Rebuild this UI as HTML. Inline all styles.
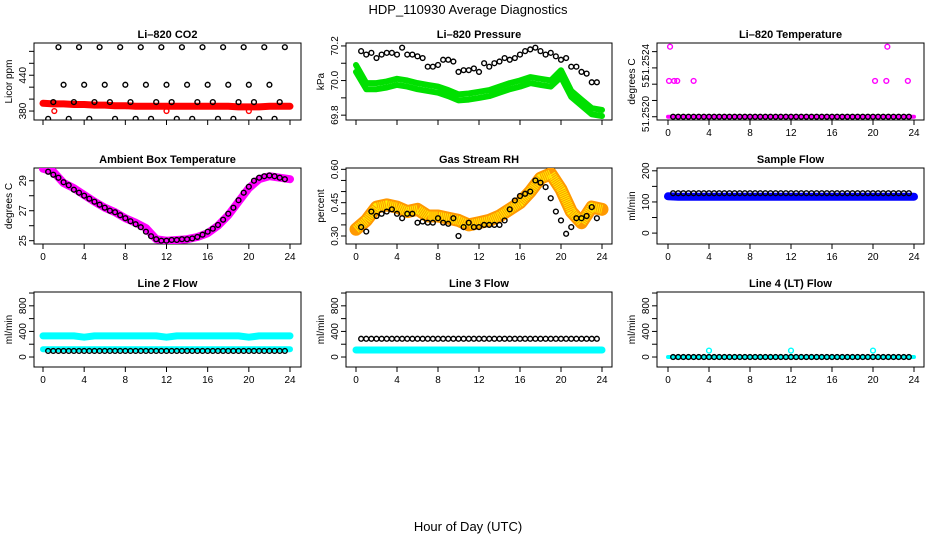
<!DOCTYPE html>
<html><head><meta charset="utf-8"><style>
html,body{margin:0;padding:0;background:#fff;}
svg{display:block;font-family:"Liberation Sans",sans-serif;}
</style></head><body>
<svg id="chart" width="936" height="540" viewBox="0 0 936 540" xmlns="http://www.w3.org/2000/svg">
<text x="468" y="14" text-anchor="middle" font-size="13">HDP_110930  Average Diagnostics</text>
<text x="468" y="531" text-anchor="middle" font-size="13">Hour of Day (UTC)</text>
</svg>
<script>
const hoursLine = [0,1,2,3,4,5,6,7,8,9,10,11,12,13,14,15,16,17,18,19,20,21,22,23,24];
const hoursBlack = [0.5,1,1.5,2,2.5,3,3.5,4,4.5,5,5.5,6,6.5,7,7.5,8,8.5,9,9.5,10,10.5,11,11.5,12,12.5,13,13.5,14,14.5,15,15.5,16,16.5,17,17.5,18,18.5,19,19.5,20,20.5,21,21.5,22,22.5,23,23.5];
const xTicks = [0,4,8,12,16,20,24];

const co2Black = [367,395,487,424,367,395,487,424,367,395,487,424,395,367,487,424,395,367,487,424,367,395,487,424,395,367,487,424,367,395,487,424,395,367,487,424,367,395,487,424,395,367,487,424,367,395,487];
const co2Red = [393,392,392,391,391,390,390,389,389,388,388,388,388,388,388,388,388,388,388,387,387,387,388,388,388];
const co2RedOutT = [1.1,12,20];
const co2RedOutV = [380,380,380];

const presBlack = [70.17,70.15,70.16,70.13,70.15,70.16,70.16,70.15,70.19,70.15,70.15,70.14,70.13,70.08,70.08,70.09,70.12,70.12,70.11,70.05,70.06,70.06,70.07,70.05,70.10,70.08,70.10,70.11,70.13,70.12,70.13,70.15,70.17,70.18,70.19,70.17,70.15,70.16,70.14,70.12,70.13,70.08,70.08,70.05,70.04,69.99,69.99];
const presGreenA = [70.09,69.985,69.985,69.995,70.01,70.0,69.985,69.975,69.965,69.945,69.92,69.925,69.935,69.945,69.965,69.985,70.0,70.02,70.01,70.0,70.06,69.94,69.89,69.84,69.83];
const presGreenB = [70.05,69.95,69.95,69.96,69.975,69.965,69.95,69.94,69.93,69.91,69.885,69.89,69.9,69.91,69.93,69.95,69.965,69.985,69.975,69.965,70.02,69.905,69.855,69.805,69.795];

const tempBlack = [51.2520,51.2520,51.2520,51.2520,51.2520,51.2520,51.2520,51.2520,51.2520,51.2520,51.2520,51.2520,51.2520,51.2520,51.2520,51.2520,51.2520,51.2520,51.2520,51.2520,51.2520,51.2520,51.2520,51.2520,51.2520,51.2520,51.2520,51.2520,51.2520,51.2520,51.2520,51.2520,51.2520,51.2520,51.2520,51.2520,51.2520,51.2520,51.2520,51.2520,51.2520,51.2520,51.2520,51.2520,51.2520,51.2520,51.2520];
const tempMag = [51.2520,51.2520,51.2520,51.2520,51.2520,51.2520,51.2520,51.2520,51.2520,51.2520,51.2520,51.2520,51.2520,51.2520,51.2520,51.2520,51.2520,51.2520,51.2520,51.2520,51.2520,51.2520,51.2520,51.2520,51.2520];
const tempOutT = [0.2,0.1,0.6,0.9,2.5,20.2,21.3,23.4,21.4];
const tempOutV = [51.25243,51.25222,51.25222,51.25222,51.25222,51.25222,51.25222,51.25222,51.25243];

const ambMag = [29.8,29.6,28.85,28.5,28.05,27.6,27.2,26.9,26.5,26.2,25.85,25.1,25.0,25.05,25.1,25.25,25.5,26.0,26.7,27.6,28.5,29.1,29.3,29.2,29.1];
const ambBlack = [29.6,29.4,29.2,28.9,28.7,28.4,28.2,28.0,27.8,27.6,27.4,27.2,27.0,26.9,26.7,26.5,26.3,26.1,25.9,25.6,25.3,25.1,25.0,25.0,25.05,25.05,25.1,25.1,25.15,25.25,25.4,25.6,25.8,26.05,26.4,26.8,27.2,27.7,28.2,28.6,29.0,29.2,29.3,29.35,29.3,29.2,29.1];

const rhOrange = [0.33,0.37,0.43,0.44,0.43,0.41,0.42,0.39,0.39,0.38,0.37,0.35,0.36,0.37,0.39,0.42,0.45,0.50,0.56,0.58,0.51,0.41,0.36,0.43,0.42];
const rhBlack = [0.34,0.32,0.41,0.39,0.40,0.41,0.42,0.40,0.38,0.40,0.40,0.36,0.365,0.36,0.36,0.38,0.36,0.355,0.38,0.30,0.34,0.36,0.34,0.34,0.35,0.35,0.35,0.35,0.37,0.42,0.46,0.48,0.49,0.50,0.55,0.54,0.52,0.47,0.41,0.37,0.31,0.34,0.38,0.38,0.39,0.43,0.38];

const sampBlue = [118,117,117,117,117,117,117,117,117,117,117,117,117,117,117,117,117,117,117,117,117,117,117,117,117];
const sampBlack = [128,128,128,128,128,128,128,128,128,128,128,128,128,128,128,128,128,128,128,128,128,128,128,128,128,128,128,128,128,128,128,128,128,128,128,128,128,128,128,128,128,128,128,128,128,128,128];

const l2CyanTop = [330,330,330,330,310,330,330,330,330,330,330,330,310,330,330,330,330,330,330,330,310,330,330,330,330];
const l2CyanLow = [120,120,120,120,120,120,120,120,120,120,120,120,120,120,120,120,120,120,120,120,120,120,120,120,120];
const l2Black = [95,95,95,95,95,95,95,95,95,95,95,95,95,95,95,95,95,95,95,95,95,95,95,95,95,95,95,95,95,95,95,95,95,95,95,95,95,95,95,95,95,95,95,95,95,95,95];

const l3Cyan = [110,110,110,110,110,110,110,110,110,110,110,110,110,110,110,110,110,110,110,110,110,110,110,110,110];
const l3Black = [285,285,285,285,285,285,285,285,285,285,285,285,285,285,285,285,285,285,285,285,285,285,285,285,285,285,285,285,285,285,285,285,285,285,285,285,285,285,285,285,285,285,285,285,285,285,285];

const l4Cyan = [0,0,0,0,0,0,0,0,0,0,0,0,0,0,0,0,0,0,0,0,0,0,0,0,0];
const l4CyanOutT = [4,12,20];
const l4CyanOutV = [100,100,100];
const l4Black = [0,0,0,0,0,0,0,0,0,0,0,0,0,0,0,0,0,0,0,0,0,0,0,0,0,0,0,0,0,0,0,0,0,0,0,0,0,0,0,0,0,0,0,0,0,0,0];

const NS = "http://www.w3.org/2000/svg";
const svg = document.getElementById('chart');
const COLS = [{l:34,r:301,x0:43,x24:290},{l:346,r:612,x0:356,x24:602},{l:657,r:924,x0:668,x24:914}];
const ROWS = [{t:43,b:120},{t:168,b:244},{t:292,b:367}];

function mk(tag, attrs, parent){
  const e = document.createElementNS(NS, tag);
  for (const k in attrs) e.setAttribute(k, attrs[k]);
  (parent||svg).appendChild(e);
  return e;
}

function panel(cfg){
  const c = COLS[cfg.col], r = ROWS[cfg.row];
  const g = mk('g', {});
  
  
  const xs = h => c.x0 + (c.x24 - c.x0) * h / 24;
  const ys = v => r.b - (v - cfg.ymin) / (cfg.ymax - cfg.ymin) * (r.b - r.t);
  const box = mk('rect', {x:c.l, y:r.t, width:c.r-c.l, height:r.b-r.t, fill:'none', stroke:'#000', 'stroke-width':1}, g);
  
  
  const tt = mk('text', {x:(c.l+c.r)/2, y:r.t-5, 'text-anchor':'middle', 'font-size':11, 'font-weight':'bold'}, g);
  tt.textContent = cfg.title;
  
  
  const xa = mk('g', {}, g);
  
  
  mk('line', {x1:xs(0), x2:xs(24), y1:r.b, y2:r.b, stroke:'#000'}, xa);
  xTicks.forEach(h => {
    mk('line', {x1:xs(h), x2:xs(h), y1:r.b, y2:r.b+5, stroke:'#000'}, xa);
    if (cfg.xlabels) {
      const t = mk('text', {x:xs(h), y:r.b+16, 'text-anchor':'middle', 'font-size':10}, xa);
      t.textContent = String(h);
    }
  });
  const ya = mk('g', {}, g);
  
  
  const yt = cfg.yticks;
  mk('line', {x1:c.l, x2:c.l, y1:ys(yt[0]), y2:ys(yt[yt.length-1]), stroke:'#000'}, ya);
  yt.forEach(v => mk('line', {x1:c.l-5, x2:c.l, y1:ys(v), y2:ys(v), stroke:'#000'}, ya));
  cfg.ylabels.forEach((lab, i) => {
    const yy = cfg.ylabelPos ? cfg.ylabelPos[i] : ys(cfg.ylabelVals[i]);
    const t = mk('text', {x:0, y:0, 'text-anchor':'middle', 'font-size':10, transform:`translate(${c.l-8},${yy}) rotate(-90)`}, ya);
    t.textContent = lab;
  });
  const yl = mk('text', {x:0, y:0, 'text-anchor':'middle', 'font-size':10, transform:`translate(${c.l-22},${(r.t+r.b)/2}) rotate(-90)`}, g);
  yl.textContent = cfg.ytitle;
  
  
  const cid = 'clip-' + cfg.name;
  const cp = mk('clipPath', {id:cid}, g);
  mk('rect', {x:c.l, y:r.t, width:c.r-c.l, height:r.b-r.t}, cp);
  const data = mk('g', {'clip-path':`url(#${cid})`}, g);
  (cfg.lines||[]).forEach(L => {
    const pts = L.t.map((h,i) => xs(h).toFixed(1) + ',' + ys(L.v[i]).toFixed(1)).join(' ');
    const pl = mk('polyline', {points:pts, fill:'none', stroke:L.color, 'stroke-width':L.w, 'stroke-linejoin':'round', 'stroke-linecap':'round'}, data);
    
    
    if (L.dash) {
      const pl2 = mk('polyline', {points:pts, fill:'none', stroke:L.dash, 'stroke-width':L.w-4, 'stroke-dasharray':'1 1', 'stroke-linejoin':'round'}, data);
      
      
    }
  });
  (cfg.points||[]).forEach(P => {
    const pg = mk('g', {}, data);
    
    
    P.t.forEach((h,i) => {
      const ci = mk('circle', {cx:xs(h), cy:ys(P.v[i]), r:2.4, fill:'none', stroke:P.color, 'stroke-width':1.4}, pg);
      
      
    });
  });
}

panel({name:'co2-panel', title:'Li\u2013820 CO2', col:0, row:0, ymin:365, ymax:494, yticks:[380,400,420,440,460,480], ylabels:['380','440'], ylabelVals:[380,440], ytitle:'Licor ppm', xlabels:false,
  lines:[{name:'co2-red-series', t:hoursLine, v:co2Red, color:'#ff0000', w:7}],
  points:[{name:'co2-red-outliers', t:co2RedOutT, v:co2RedOutV, color:'#ff0000'},{name:'co2-black-series', t:hoursBlack, v:co2Black, color:'#000'}]});

panel({name:'pressure-panel', title:'Li\u2013820 Pressure', col:1, row:0, ymin:69.772, ymax:70.217, yticks:[69.8,69.9,70.0,70.1,70.2], ylabels:['69.8','70.0','70.2'], ylabelVals:[69.8,70.0,70.2], ytitle:'kPa', xlabels:false,
  lines:[{name:'pressure-green-upper', t:hoursLine, v:presGreenA, color:'#00e000', w:6},{name:'pressure-green-lower', t:hoursLine, v:presGreenB, color:'#00e000', w:6}],
  points:[{name:'pressure-black-series', t:hoursBlack, v:presBlack, color:'#000'}]});

panel({name:'li820-temperature-panel', title:'Li\u2013820 Temperature', col:2, row:0, ymin:51.25198, ymax:51.252453, yticks:[51.2520,51.2521,51.2522,51.2523,51.2524], ylabels:['51.2520','51','51.2524'], ylabelPos:[114,82,62], ytitle:'degrees C', xlabels:true,
  lines:[{name:'temperature-magenta-series', t:hoursLine, v:tempMag, color:'#ff00ff', w:4}],
  points:[{name:'temperature-magenta-outliers', t:tempOutT, v:tempOutV, color:'#ff00ff'},{name:'temperature-black-series', t:hoursBlack, v:tempBlack, color:'#000'}]});

panel({name:'ambient-temperature-panel', title:'Ambient Box Temperature', col:0, row:1, ymin:24.78, ymax:29.85, yticks:[25,26,27,28,29], ylabels:['25','27','29'], ylabelVals:[25,27,29], ytitle:'degrees C', xlabels:true,
  lines:[{name:'ambient-magenta-series', t:hoursLine, v:ambMag, color:'#ff00ff', w:8}],
  points:[{name:'ambient-black-series', t:hoursBlack, v:ambBlack, color:'#000'}]});

panel({name:'rh-panel', title:'Gas Stream RH', col:1, row:1, ymin:0.264, ymax:0.606, yticks:[0.30,0.35,0.40,0.45,0.50,0.55,0.60], ylabels:['0.30','0.45','0.60'], ylabelVals:[0.30,0.45,0.60], ytitle:'percent', xlabels:true,
  lines:[{name:'rh-orange-series', t:hoursLine, v:rhOrange, color:'#ff9900', w:13, dash:'#ffee00'}],
  points:[{name:'rh-black-series', t:hoursBlack, v:rhBlack, color:'#000'}]});

panel({name:'sample-flow-panel', title:'Sample Flow', col:2, row:1, ymin:-35, ymax:209, yticks:[0,50,100,150,200], ylabels:['0','100','200'], ylabelVals:[0,100,200], ytitle:'ml/min', xlabels:true,
  lines:[{name:'sample-flow-blue-series', t:hoursLine, v:sampBlue, color:'#0000ff', w:8}],
  points:[{name:'sample-flow-black-series', t:hoursBlack, v:sampBlack, color:'#000'}]});

const flowTicks = [0,200,400,600,800,1000];
panel({name:'line2-flow-panel', title:'Line 2 Flow', col:0, row:2, ymin:-156, ymax:1016, yticks:flowTicks, ylabels:['0','400','800'], ylabelVals:[0,400,800], ytitle:'ml/min', xlabels:true,
  lines:[{name:'line2-cyan-upper', t:hoursLine, v:l2CyanTop, color:'#00ffff', w:7},{name:'line2-cyan-lower', t:hoursLine, v:l2CyanLow, color:'#00ffff', w:6}],
  points:[{name:'line2-black-series', t:hoursBlack, v:l2Black, color:'#000'}]});

panel({name:'line3-flow-panel', title:'Line 3 Flow', col:1, row:2, ymin:-156, ymax:1016, yticks:flowTicks, ylabels:['0','400','800'], ylabelVals:[0,400,800], ytitle:'ml/min', xlabels:true,
  lines:[{name:'line3-cyan-series', t:hoursLine, v:l3Cyan, color:'#00ffff', w:7}],
  points:[{name:'line3-black-series', t:hoursBlack, v:l3Black, color:'#000'}]});

panel({name:'line4-flow-panel', title:'Line 4 (LT) Flow', col:2, row:2, ymin:-156, ymax:1016, yticks:flowTicks, ylabels:['0','400','800'], ylabelVals:[0,400,800], ytitle:'ml/min', xlabels:true,
  lines:[{name:'line4-cyan-series', t:hoursLine, v:l4Cyan, color:'#00ffff', w:4}],
  points:[{name:'line4-cyan-outliers', t:l4CyanOutT, v:l4CyanOutV, color:'#00ffff'},{name:'line4-black-series', t:hoursBlack, v:l4Black, color:'#000'}]});
</script>
</body></html>
